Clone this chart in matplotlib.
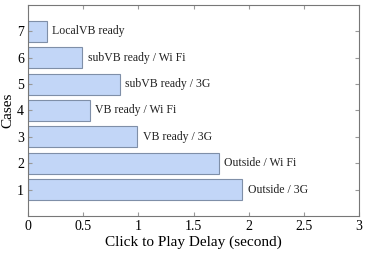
import matplotlib
matplotlib.use("Agg")
import matplotlib.pyplot as plt

cases = [1, 2, 3, 4, 5, 6, 7]
delays = [1.94, 1.73, 0.99, 0.56, 0.83, 0.49, 0.17]
labels = ["Outside / 3G", "Outside / Wi Fi", "VB ready / 3G", "VB ready / Wi Fi",
          "subVB ready / 3G", "subVB ready / Wi Fi", "LocalVB ready"]
xticks = [0, 0.5, 1, 1.5, 2, 2.5, 3]
xticklabels = ["0", "0.5", "1", "1.5", "2", "2.5", "3"]

plt.rcParams['font.family'] = ['Liberation Serif', 'DejaVu Serif']
fig = plt.figure(figsize=(3.74, 2.6), dpi=100)
ax = fig.add_axes([0.075, 0.169, 0.885, 0.812])
ax.barh(cases, delays, height=0.8, color='#c2d6f7', edgecolor='#7f8fa8', linewidth=0.8)
for c, d, l in zip(cases, delays, labels):
    ax.text(d + 0.05, c, l, va='center', ha='left', fontsize=8.5, color='#222222')
ax.set_xlim(0, 3)
ax.set_ylim(0, 8)
ax.set_xticks(xticks)
ax.set_xticklabels(xticklabels, fontsize=10)
ax.set_yticks(cases)
ax.set_yticklabels([str(c) for c in cases], fontsize=10)
ax.tick_params(direction='in', top=True, right=True, length=3, color='#999999', pad=3)
for s in ax.spines.values():
    s.set_color('#777777')
    s.set_linewidth(0.8)
ax.set_xlabel("Click to Play Delay (second)", fontsize=11, labelpad=2)
ax.set_ylabel("Cases", fontsize=11, labelpad=2)
fig.savefig("out.png", dpi=100)
